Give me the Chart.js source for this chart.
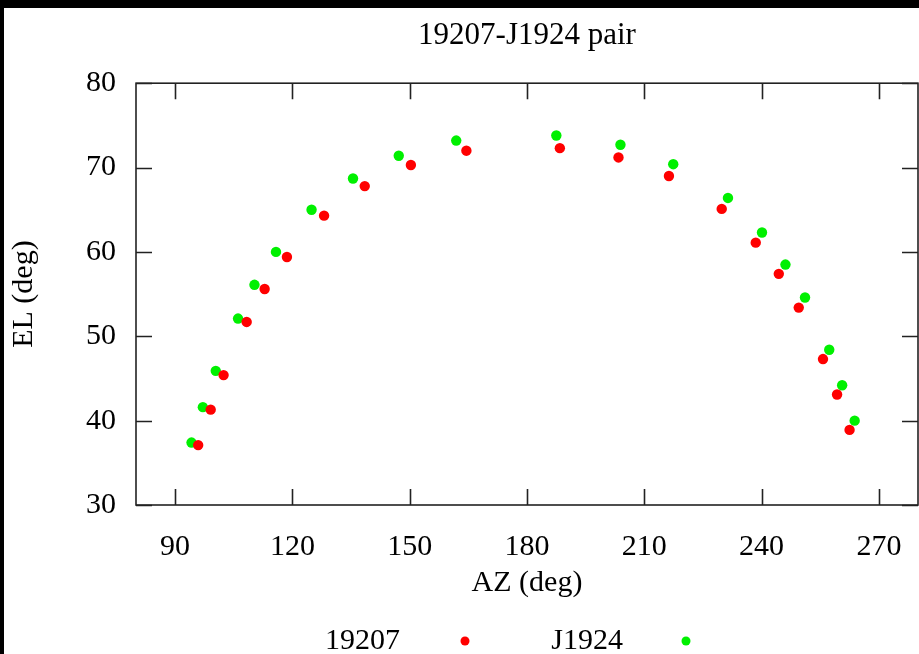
<!DOCTYPE html>
<html>
<head>
<meta charset="utf-8">
<script src="https://cdn.jsdelivr.net/npm/chart.js@4/dist/chart.umd.min.js"></script>
<style>
  html, body { margin: 0; padding: 0; background: #000; }
  #wrap { width: 919px; height: 654px; }
</style>
</head>
<body>
<div id="wrap"><canvas id="c" width="919" height="654"></canvas></div>
<script>
// values
const az19207 = [95.9, 99.1, 102.4, 108.3, 112.9, 118.6, 128.1, 138.5, 150.3, 164.5,
                 188.4, 203.4, 216.3, 229.8, 238.5, 244.4, 249.5, 255.7, 259.3, 262.5];
const el19207 = [37.1, 41.3, 45.4, 51.7, 55.6, 59.4, 64.3, 67.8, 70.3, 72.0,
                 72.3, 71.2, 69.0, 65.1, 61.1, 57.4, 53.4, 47.3, 43.1, 38.9];
const azJ1924 = [94.2, 97.1, 100.4, 106.1, 110.3, 115.8, 124.9, 135.5, 147.2, 161.9,
                 187.5, 203.9, 217.4, 231.4, 240.1, 246.1, 251.1, 257.3, 260.6, 263.8];
const elJ1924 = [37.4, 41.6, 45.9, 52.1, 56.1, 60.0, 65.0, 68.7, 71.4, 73.2,
                 73.8, 72.7, 70.4, 66.4, 62.3, 58.5, 54.6, 48.4, 44.2, 40.0];
const xTicks = [90, 120, 150, 180, 210, 240, 270];
const yTicks = [30, 40, 50, 60, 70, 80];

const serif = "'Liberation Serif', 'Times New Roman', serif";

function pts(xs, ys) {
    return xs.map((x, i) => ({ x: x, y: ys[i] }));
}

// white page on black, frame with inward ticks on all sides, gnuplot-style key
const gnuFrame = {
    id: "gnuFrame",
    beforeDraw(chart) {
        const ctx = chart.ctx;
        ctx.save();
        ctx.fillStyle = "#000";
        ctx.fillRect(0, 0, chart.width, chart.height);
        ctx.fillStyle = "#fff";
        ctx.fillRect(4, 8, chart.width - 4, chart.height - 8);
        ctx.restore();
    },
    afterDatasetsDraw(chart) {
        const ctx = chart.ctx,
            a = chart.chartArea,
            sx = chart.scales.x,
            sy = chart.scales.y,
            tl = 16;
        ctx.save();
        ctx.strokeStyle = "#222";
        ctx.lineWidth = 1.6;
        ctx.beginPath();
        xTicks.forEach(v => {
            const px = Math.round(sx.getPixelForValue(v)) + 0.5;
            ctx.moveTo(px, a.bottom); ctx.lineTo(px, a.bottom - tl);
            ctx.moveTo(px, a.top); ctx.lineTo(px, a.top + tl);
        });
        yTicks.forEach(v => {
            const py = Math.round(sy.getPixelForValue(v)) + 0.5;
            ctx.moveTo(a.left, py); ctx.lineTo(a.left + tl, py);
            ctx.moveTo(a.right, py); ctx.lineTo(a.right - tl, py);
        });
        ctx.stroke();
        ctx.strokeRect(a.left, a.top, a.right - a.left, a.bottom - a.top);

        // key
        const keyX = [400, 623], dotX = [465, 686], keyY = 641;
        ctx.font = "30px " + serif;
        ctx.textAlign = "right";
        ctx.textBaseline = "middle";
        chart.data.datasets.forEach((ds, i) => {
            ctx.fillStyle = "#000";
            ctx.fillText(ds.label, keyX[i], keyY);
            ctx.fillStyle = ds.backgroundColor;
            ctx.beginPath();
            ctx.arc(dotX[i], keyY, 4.5, 0, Math.PI * 2);
            ctx.fill();
        });
        ctx.restore();
    }
};

new Chart(document.getElementById("c"), {
    type: "scatter",
    data: {
        datasets: [{
            label: "19207",
            data: pts(az19207, el19207),
            backgroundColor: "#ff0000",
            borderWidth: 0,
            pointRadius: 5.2
        }, {
            label: "J1924",
            data: pts(azJ1924, elJ1924),
            backgroundColor: "#00f000",
            borderWidth: 0,
            pointRadius: 5.2
        }]
    },
    options: {
        responsive: false,
        animation: false,
        layout: {
            autoPadding: false,
            padding: { left: 4, top: 8, right: 1, bottom: 44 }
        },
        plugins: {
            legend: { display: false },
            tooltip: { enabled: false },
            title: {
                display: true,
                fullSize: false,
                text: "19207-J1924 pair",
                color: "#000",
                font: { family: serif, size: 31, weight: "normal" },
                padding: { top: 9, bottom: 29 }
            }
        },
        scales: {
            x: {
                type: "linear",
                min: 80,
                max: 280,
                afterBuildTicks: s => { s.ticks = xTicks.map(v => ({ value: v })); },
                afterFit: s => { s.height = 105; s.paddingLeft = 0; s.paddingRight = 0; },
                grid: { display: false, drawTicks: false },
                border: { display: false },
                ticks: {
                    color: "#000",
                    padding: 24,
                    maxRotation: 0,
                    font: { family: serif, size: 30 }
                },
                title: {
                    display: true,
                    text: "AZ (deg)",
                    color: "#000",
                    font: { family: serif, size: 30 },
                    padding: { top: 0, bottom: 9 }
                }
            },
            y: {
                type: "linear",
                min: 30,
                max: 80,
                afterBuildTicks: s => { s.ticks = yTicks.map(v => ({ value: v })); },
                afterFit: s => { s.width = 132; s.paddingTop = 0; s.paddingBottom = 0; },
                grid: { display: false, drawTicks: false },
                border: { display: false },
                ticks: {
                    color: "#000",
                    padding: 20,
                    font: { family: serif, size: 30 }
                },
                title: {
                    display: true,
                    text: "EL (deg)",
                    color: "#000",
                    font: { family: serif, size: 30 },
                    padding: { top: 2, bottom: 0 }
                }
            }
        }
    },
    plugins: [gnuFrame]
});
</script>
</body>
</html>
